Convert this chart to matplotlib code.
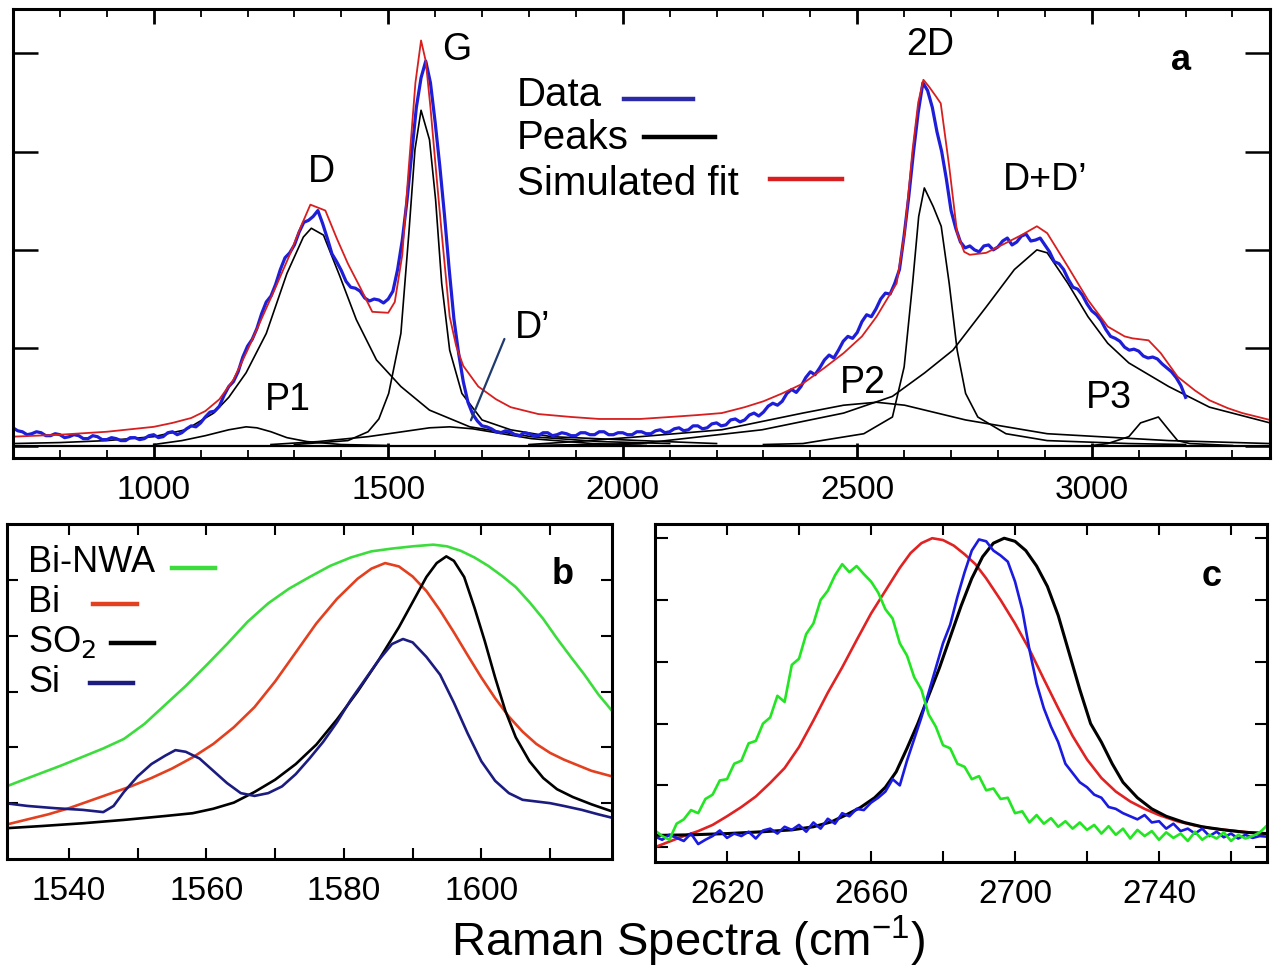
import numpy as np
import matplotlib
matplotlib.use("Agg")
import matplotlib.pyplot as plt
from matplotlib.lines import Line2D

plt.rcParams['font.family'] = ['Liberation Sans', 'DejaVu Sans']

W, H = 1278, 969

# ---------------- Panel a data ----------------
data_x0, data_step = 700, 10
data_y = [0.19, 0.16, 0.15, 0.12, 0.13, 0.15, 0.14, 0.11, 0.11, 0.13,
          0.12, 0.09, 0.10, 0.12, 0.11, 0.08, 0.08, 0.11, 0.10, 0.07,
          0.07, 0.09, 0.08, 0.06, 0.06, 0.09, 0.09, 0.07, 0.08, 0.11,
          0.12, 0.09, 0.10, 0.14, 0.15, 0.12, 0.14, 0.18, 0.21, 0.20,
          0.24, 0.30, 0.35, 0.36, 0.41, 0.52, 0.61, 0.66, 0.76, 0.91,
          1.02, 1.09, 1.20, 1.35, 1.47, 1.53, 1.65, 1.80, 1.92, 1.97,
          2.05, 2.18, 2.28, 2.30, 2.34, 2.40, 2.27, 2.12, 1.96, 1.88,
          1.79, 1.68, 1.62, 1.61, 1.58, 1.51, 1.48, 1.50, 1.49, 1.46,
          1.50, 1.58, 1.80, 2.10, 2.50, 2.98, 3.45, 3.75, 3.92, 3.70,
          3.30, 2.85, 2.35, 1.80, 1.30, 0.95, 0.66, 0.45, 0.33, 0.26,
          0.21, 0.20, 0.18, 0.15, 0.14, 0.16, 0.15, 0.12, 0.11, 0.14,
          0.13, 0.11, 0.11, 0.14, 0.14, 0.11, 0.12, 0.14, 0.13, 0.11,
          0.11, 0.14, 0.14, 0.12, 0.12, 0.15, 0.15, 0.12, 0.12, 0.14,
          0.14, 0.12, 0.12, 0.15, 0.15, 0.13, 0.13, 0.16, 0.17, 0.14,
          0.15, 0.18, 0.19, 0.16, 0.17, 0.21, 0.21, 0.18, 0.19, 0.23,
          0.24, 0.21, 0.22, 0.27, 0.28, 0.25, 0.27, 0.32, 0.34, 0.31,
          0.35, 0.41, 0.44, 0.42, 0.46, 0.54, 0.58, 0.55, 0.61, 0.70,
          0.76, 0.73, 0.80, 0.88, 0.93, 0.90, 0.98, 1.07, 1.12, 1.10,
          1.16, 1.27, 1.34, 1.32, 1.40, 1.50, 1.56, 1.55, 1.66, 1.80,
          2.15, 2.55, 3.00, 3.40, 3.70, 3.62, 3.45, 3.20, 3.00, 2.72,
          2.40, 2.22, 2.08, 2.02, 2.04, 2.00, 1.98, 2.04, 2.05, 2.00,
          2.03, 2.09, 2.12, 2.05, 2.08, 2.14, 2.16, 2.09, 2.10, 2.12,
          2.05, 1.98, 1.88, 1.86, 1.80, 1.70, 1.62, 1.60, 1.54, 1.45,
          1.38, 1.34, 1.28, 1.19, 1.12, 1.10, 1.07, 1.01, 0.98, 0.99,
          0.97, 0.92, 0.90, 0.91, 0.89, 0.84, 0.80, 0.76, 0.70, 0.62,
          0.50]

fit_x = [700, 800, 900, 1000, 1040, 1080, 1110, 1140, 1170, 1200, 1230, 1260, 1290, 1315, 1334,
         1366, 1390, 1414, 1440, 1466, 1500, 1514, 1530, 1544, 1558, 1570, 1580, 1590, 1602, 1614,
         1631, 1645, 1660, 1692, 1730, 1761, 1820, 1891, 1950, 2037, 2100, 2160, 2211, 2260, 2300,
         2340, 2384, 2430, 2471, 2510, 2541, 2570, 2584, 2601, 2618, 2630, 2641, 2653, 2668, 2678,
         2696, 2713, 2728, 2740, 2775, 2817, 2850, 2883, 2905, 2949, 2992, 3034, 3070, 3087, 3121,
         3147, 3183, 3220, 3251, 3290, 3321, 3380]
fit_y = [0.10, 0.12, 0.15, 0.20, 0.24, 0.29, 0.36, 0.48, 0.68, 0.98, 1.30, 1.62, 1.95, 2.25, 2.46,
         2.40, 2.12, 1.86, 1.62, 1.37, 1.36, 1.47, 1.95, 2.85, 3.70, 4.13, 3.92, 3.45, 2.80, 2.17,
         1.32, 1.02, 0.82, 0.61, 0.48, 0.40, 0.33, 0.30, 0.28, 0.28, 0.30, 0.32, 0.34, 0.40, 0.46,
         0.54, 0.64, 0.80, 0.95, 1.12, 1.32, 1.55, 1.66, 2.17, 3.02, 3.50, 3.73, 3.66, 3.56, 3.49,
         2.85, 2.17, 1.98, 1.95, 1.97, 2.07, 2.15, 2.24, 2.17, 1.83, 1.49, 1.22, 1.12, 1.10, 1.08,
         0.95, 0.71, 0.57, 0.47, 0.39, 0.34, 0.27]

p1_x = [1000, 1060, 1110, 1160, 1197, 1220, 1250, 1284, 1327, 1400, 1500]
p1_y = [0.02, 0.06, 0.11, 0.17, 0.20, 0.19, 0.15, 0.09, 0.05, 0.02, 0.01]

d_x = [700, 800, 900, 1000, 1068, 1128, 1160, 1197, 1240, 1284, 1319, 1336, 1362, 1397, 1432,
       1475, 1527, 1588, 1674, 1805, 1950, 2100]
d_y = [0.03, 0.04, 0.06, 0.10, 0.17, 0.34, 0.50, 0.75, 1.15, 1.76, 2.13, 2.22, 2.15, 1.73, 1.29,
       0.88, 0.61, 0.37, 0.20, 0.10, 0.05, 0.03]

g_x = [1300, 1414, 1457, 1480, 1501, 1527, 1544, 1557, 1570, 1588, 1601, 1614, 1631, 1657, 1700,
       1761, 1848, 2037, 2200]
g_y = [0.02, 0.06, 0.15, 0.28, 0.54, 1.15, 2.17, 3.02, 3.42, 3.12, 2.51, 1.66, 0.98, 0.54, 0.27,
       0.17, 0.10, 0.06, 0.03]

dp_x = [1250, 1350, 1457, 1530, 1588, 1631, 1680, 1718, 1805, 1935, 2050]
dp_y = [0.02, 0.05, 0.10, 0.15, 0.19, 0.20, 0.18, 0.15, 0.08, 0.03, 0.01]

p2_x = [1800, 1900, 2037, 2211, 2384, 2471, 2541, 2601, 2731, 2905, 3164, 3380]
p2_y = [0.02, 0.05, 0.10, 0.17, 0.34, 0.42, 0.45, 0.42, 0.27, 0.13, 0.06, 0.03]

ddp_x = [1800, 2037, 2297, 2471, 2575, 2644, 2704, 2775, 2835, 2883, 2905, 2949, 2992, 3034,
         3079, 3164, 3251, 3380]
ddp_y = [0.01, 0.03, 0.17, 0.34, 0.51, 0.75, 0.98, 1.42, 1.80, 2.00, 1.97, 1.66, 1.32, 1.05,
         0.85, 0.61, 0.40, 0.24]

d2_x = [2300, 2384, 2514, 2575, 2600, 2618, 2631, 2643, 2662, 2679, 2696, 2713, 2731, 2757,
        2817, 2905, 3079, 3200]
d2_y = [0.02, 0.03, 0.13, 0.30, 0.81, 1.66, 2.34, 2.63, 2.44, 2.24, 1.66, 0.98, 0.54, 0.30,
        0.13, 0.06, 0.03, 0.02]

p3_x = [3000, 3034, 3079, 3104, 3142, 3164, 3183, 3209, 3300]
p3_y = [0.01, 0.03, 0.10, 0.24, 0.30, 0.17, 0.06, 0.03, 0.01]

# ---------------- Panel b data ----------------
bnwa_x = [1530.7, 1533, 1536, 1539, 1542, 1545, 1548, 1551, 1554, 1557, 1560, 1563, 1566, 1569,
          1572, 1575, 1578, 1581, 1584, 1587, 1590, 1593, 1595, 1597, 1599, 1601, 1603, 1605,
          1607, 1609, 1611, 1613, 1615, 1617, 1619.3]
bnwa_y = [1.29, 1.40, 1.54, 1.68, 1.83, 1.98, 2.15, 2.42, 2.76, 3.10, 3.47, 3.85, 4.25, 4.58,
          4.84, 5.05, 5.25, 5.40, 5.51, 5.56, 5.60, 5.63, 5.60, 5.52, 5.40, 5.25, 5.07, 4.87,
          4.60, 4.30, 3.95, 3.62, 3.30, 2.95, 2.61]

bi_x = [1530.7, 1534, 1537, 1540, 1543, 1546, 1549, 1552, 1555, 1558, 1561, 1564, 1567, 1570,
        1573, 1576, 1579, 1582, 1584, 1586, 1588, 1590, 1592, 1594, 1596, 1598, 1600, 1602,
        1604, 1606, 1608, 1610, 1612, 1614, 1616, 1619.3]
bi_y = [0.61, 0.71, 0.80, 0.91, 1.04, 1.17, 1.30, 1.45, 1.62, 1.82, 2.06, 2.36, 2.72, 3.18,
        3.70, 4.22, 4.66, 5.02, 5.20, 5.30, 5.24, 5.06, 4.80, 4.45, 4.06, 3.65, 3.25, 2.88,
        2.55, 2.28, 2.06, 1.90, 1.78, 1.68, 1.58, 1.47]

so2_x = [1530.7, 1536, 1542, 1548, 1554, 1558, 1561, 1564, 1567, 1570, 1573, 1576, 1579, 1582,
         1585, 1588, 1590, 1592, 1593.5, 1594.9, 1596, 1597.5, 1599, 1600.5, 1602, 1603.5, 1605,
         1607, 1609, 1611, 1613.3, 1616, 1619.3]
so2_y = [0.55, 0.59, 0.64, 0.70, 0.77, 0.82, 0.90, 1.01, 1.20, 1.42, 1.70, 2.05, 2.50, 3.00,
         3.55, 4.15, 4.60, 5.05, 5.30, 5.42, 5.34, 5.05, 4.50, 3.90, 3.25, 2.65, 2.18, 1.75,
         1.45, 1.25, 1.11, 0.98, 0.84]

si_x = [1530.7, 1534, 1538, 1542, 1545, 1546.5, 1548, 1550, 1552, 1554, 1555.5, 1557, 1559, 1561,
        1563, 1565, 1567, 1569, 1571, 1573, 1575, 1577, 1579, 1581, 1583, 1585, 1587, 1588.6,
        1590, 1592, 1594, 1596, 1598, 1600, 1602, 1604, 1606, 1608, 1610, 1612, 1614.6, 1617,
        1619.3]
si_y = [1.00, 0.95, 0.91, 0.88, 0.84, 0.95, 1.20, 1.48, 1.70, 1.85, 1.95, 1.92, 1.80, 1.58,
        1.36, 1.18, 1.13, 1.18, 1.30, 1.52, 1.80, 2.10, 2.45, 2.85, 3.20, 3.55, 3.85, 3.94,
        3.88, 3.62, 3.30, 2.80, 2.25, 1.75, 1.40, 1.18, 1.06, 1.03, 1.00, 0.95, 0.88, 0.80,
        0.73]

# ---------------- Panel c data ----------------
c_x0, c_step = 2600, 2
c_green = [0.27, 0.18, 0.12, 0.38, 0.45, 0.60, 0.55, 0.78, 0.85, 1.08, 1.10, 1.35, 1.40, 1.68,
           1.72, 2.00, 2.10, 2.45, 2.35, 2.95, 3.05, 3.45, 3.62, 4.00, 4.15, 4.40, 4.58, 4.45, 4.55,
           4.42, 4.30, 4.12, 3.85, 3.70, 3.30, 3.10, 2.75, 2.55, 2.15, 1.95, 1.65, 1.60, 1.35, 1.30,
           1.10, 1.15, 0.92, 0.95, 0.78, 0.80, 0.55, 0.58, 0.40, 0.52, 0.38, 0.47, 0.33, 0.42,
           0.30, 0.40, 0.28, 0.36, 0.22, 0.34, 0.20, 0.30, 0.14, 0.28, 0.18, 0.26, 0.12, 0.24,
           0.15, 0.22, 0.10, 0.25, 0.12, 0.20, 0.14, 0.24, 0.10, 0.20, 0.14, 0.18, 0.24, 0.35]
c_blue = [0.17, 0.12, 0.20, 0.15, 0.10, 0.22, 0.05, 0.12, 0.18, 0.27, 0.15, 0.22, 0.18, 0.25,
          0.14, 0.27, 0.30, 0.22, 0.33, 0.28, 0.36, 0.25, 0.40, 0.30, 0.46, 0.38, 0.55, 0.50, 0.62,
          0.60, 0.72, 0.80, 0.90, 1.10, 1.00, 1.40, 1.75, 2.10, 2.50, 2.90, 3.30, 3.60, 4.05, 4.45,
          4.80, 4.98, 4.95, 4.80, 4.72, 4.62, 4.30, 3.85, 3.20, 2.65, 2.25, 1.95, 1.70, 1.35, 1.20,
          1.05, 0.97, 0.85, 0.80, 0.65, 0.62, 0.55, 0.50, 0.45, 0.52, 0.40, 0.42, 0.30, 0.38, 0.26,
          0.30, 0.22, 0.30, 0.18, 0.25, 0.16, 0.22, 0.14, 0.20, 0.15, 0.18, 0.17]

cred_x = [2600, 2604, 2608, 2612, 2616, 2620, 2624, 2628, 2632, 2636, 2640, 2644, 2648, 2652,
          2656, 2660, 2664, 2668, 2671, 2674, 2677, 2680, 2683, 2686, 2689, 2692, 2696, 2700,
          2704, 2708, 2712, 2716, 2720, 2724, 2728, 2732, 2736, 2740, 2745, 2750, 2755, 2760,
          2765, 2770]
cred_y = [0.00, 0.09, 0.18, 0.26, 0.36, 0.50, 0.65, 0.82, 1.04, 1.28, 1.62, 2.05, 2.50, 2.91,
          3.35, 3.78, 4.15, 4.52, 4.76, 4.92, 5.00, 4.97, 4.88, 4.74, 4.58, 4.35, 4.00, 3.62,
          3.20, 2.72, 2.25, 1.80, 1.42, 1.12, 0.90, 0.74, 0.62, 0.52, 0.42, 0.35, 0.30, 0.27,
          0.24, 0.22]

cblk_x = [2600, 2610, 2620, 2630, 2638, 2644, 2649, 2653, 2657, 2661, 2664, 2667, 2670, 2673,
          2676, 2679, 2682, 2685, 2688, 2691, 2694, 2697, 2700, 2703, 2706, 2709, 2712, 2715,
          2718, 2721, 2724, 2727, 2730, 2734, 2738, 2742, 2747, 2752, 2758, 2764, 2770]
cblk_y = [0.19, 0.20, 0.22, 0.25, 0.28, 0.33, 0.41, 0.52, 0.64, 0.80, 0.97, 1.22, 1.60, 2.00,
          2.45, 2.90, 3.40, 3.90, 4.35, 4.70, 4.92, 5.00, 4.95, 4.80, 4.55, 4.22, 3.75, 3.15,
          2.55, 2.00, 1.70, 1.35, 1.05, 0.80, 0.62, 0.50, 0.40, 0.33, 0.28, 0.24, 0.22]

# ---------------- Figure ----------------
fig = plt.figure(figsize=(W / 100, H / 100), dpi=100)


def px_axes(l, t, r, b):
    return fig.add_axes([l / W, 1 - b / H, (r - l) / W, (b - t) / H])


def style(ax, lw=2.2):
    for s in ax.spines.values():
        s.set_linewidth(lw)
        s.set_color('black')


ax_a = px_axes(13, 9, 1270, 458)
ax_b = px_axes(7, 524, 612, 859)
ax_c = px_axes(655, 524, 1267, 862)

TICK_FS = 24

blk = dict(color='black', lw=1.2)
ax_a.axhline(0, color='black', lw=1.6)
for xs, ys in [(p1_x, p1_y), (d_x, d_y), (g_x, g_y), (dp_x, dp_y), (p2_x, p2_y),
               (ddp_x, ddp_y), (d2_x, d2_y), (p3_x, p3_y)]:
    ax_a.plot(xs, ys, **blk)
data_x = data_x0 + data_step * np.arange(len(data_y))
ax_a.plot(data_x, data_y, color='#1e1ed8', lw=2.3)
ax_a.plot(fit_x, fit_y, color='#d81e1e', lw=1.3)

ax_a.set_xlim(700, 3380)
ax_a.set_ylim(-0.117, 4.45)
ax_a.set_xticks([1000, 1500, 2000, 2500, 3000])
ax_a.set_xticks(np.arange(800, 3400, 100), minor=True)
ax_a.set_yticks([0, 1, 2, 3, 4])
ax_a.set_yticklabels([])
ax_a.tick_params(axis='x', which='major', direction='in', length=11, width=2.0, top=True,
                 labelsize=TICK_FS, pad=12)
ax_a.tick_params(axis='x', which='minor', direction='in', length=6, width=1.3, top=True)
ax_a.tick_params(axis='y', which='major', direction='in', length=18, width=1.8, right=True)
style(ax_a)

lab_fs = 27
ax_a.text(1357, 2.79, 'D', fontsize=lab_fs, ha='center', va='center')
ax_a.text(1646, 4.03, 'G', fontsize=lab_fs, ha='center', va='center')
ax_a.text(2656, 4.08, '2D', fontsize=lab_fs, ha='center', va='center')
ax_a.text(2900, 2.71, 'D+D\u2019', fontsize=lab_fs, ha='center', va='center')
ax_a.text(1287, 0.47, 'P1', fontsize=lab_fs, ha='center', va='center')
ax_a.text(2513, 0.65, 'P2', fontsize=lab_fs, ha='center', va='center')
ax_a.text(3036, 0.49, 'P3', fontsize=lab_fs, ha='center', va='center')
ax_a.text(1808, 1.21, 'D\u2019', fontsize=lab_fs, ha='center', va='center')
ax_a.annotate('', xy=(1674, 0.24), xytext=(1750, 1.12),
              arrowprops=dict(arrowstyle='-', color='#1f3a6e', lw=1.6))
fig.text(1181 / W, 1 - 60 / H, 'a', fontsize=26, fontweight='bold', ha='center', va='center')

# legend-like labels in panel a
leg_fs = 29
fig.text(517 / W, 1 - 95 / H, 'Data', fontsize=leg_fs, ha='left', va='center')
fig.text(517 / W, 1 - 138 / H, 'Peaks', fontsize=leg_fs, ha='left', va='center')
fig.text(517 / W, 1 - 184 / H, 'Simulated fit', fontsize=leg_fs, ha='left', va='center')
for (x1, x2, y, c) in [(624, 693, 99, '#2a2aa8'), (644, 715, 137, 'black'), (770, 842, 179, '#d81e1e')]:
    fig.add_artist(Line2D([x1 / W, x2 / W], [1 - y / H, 1 - y / H], color=c, lw=3.2,
                          transform=fig.transFigure))

# panel b
ax_b.plot(bnwa_x, bnwa_y, color='#3ddc3d', lw=1.9)
ax_b.plot(bi_x, bi_y, color='#e2401f', lw=1.9)
ax_b.plot(so2_x, so2_y, color='black', lw=1.9)
ax_b.plot(si_x, si_y, color='#1c1c80', lw=1.9)
ax_b.set_xlim(1531, 1619)
ax_b.set_ylim(0, 6)
ax_b.set_xticks([1540, 1560, 1580, 1600])
ax_b.set_xticks([1550, 1570, 1590, 1610], minor=True)
ax_b.set_yticks([1, 2, 3, 4, 5])
ax_b.set_yticklabels([])
ax_b.tick_params(axis='x', which='both', direction='in', length=8, width=1.5, top=True,
                 labelsize=TICK_FS, pad=12)
ax_b.tick_params(axis='y', which='major', direction='in', length=8, width=1.5, right=True)
style(ax_b)
fig.text(563 / W, 1 - 575 / H, 'b', fontsize=26, fontweight='bold', ha='center', va='center')

bl_fs = 26
for (txt, ty, x1, x2, ly, c) in [('Bi-NWA', 562, 172, 215, 568, '#3ddc3d'),
                                 ('Bi', 602, 93, 137, 604, '#e2401f'),
                                 ('SO$_2$', 642, 111, 154, 643, 'black'),
                                 ('Si', 682, 90, 133, 683, '#1c1c80')]:
    fig.text(28 / W, 1 - ty / H, txt, fontsize=bl_fs, ha='left', va='center')
    fig.add_artist(Line2D([x1 / W, x2 / W], [1 - ly / H, 1 - ly / H], color=c, lw=3.2,
                          transform=fig.transFigure))

# panel c
cx = c_x0 + c_step * np.arange(len(c_green))
ax_c.plot(cred_x, cred_y, color='#e02222', lw=1.9)
ax_c.plot(cblk_x, cblk_y, color='black', lw=2.2)
ax_c.plot(cx, c_blue, color='#1a1ae0', lw=1.9)
ax_c.plot(cx, c_green, color='#22e622', lw=1.9)
ax_c.set_xlim(2600, 2770)
ax_c.set_ylim(-0.24, 5.23)
ax_c.set_xticks([2620, 2660, 2700, 2740])
ax_c.set_xticks([2640, 2680, 2720, 2760], minor=True)
ax_c.set_yticks([0, 1, 2, 3, 4, 5])
ax_c.set_yticklabels([])
ax_c.tick_params(axis='x', which='both', direction='in', length=8, width=1.5, top=True,
                 labelsize=TICK_FS, pad=12)
ax_c.tick_params(axis='y', which='major', direction='in', length=9, width=1.5, right=True)
style(ax_c)
fig.text(1212 / W, 1 - 577 / H, 'c', fontsize=26, fontweight='bold', ha='center', va='center')

fig.text(688 / W, 1 - 956 / H, 'Raman Spectra (cm$^{\\mathregular{-1}}$)', fontsize=34,
         ha='center', va='baseline')

fig.savefig('out.png', dpi=100)
